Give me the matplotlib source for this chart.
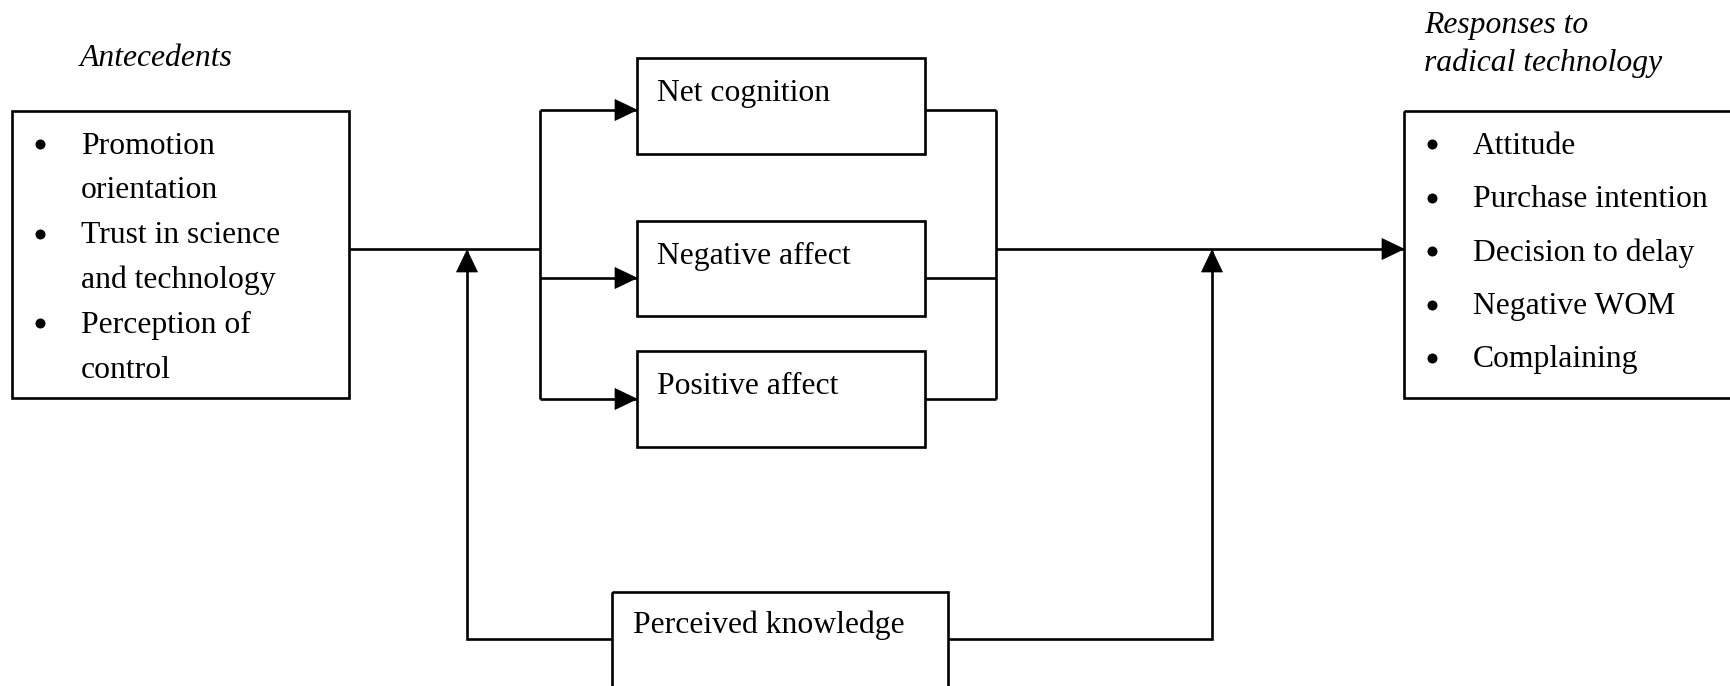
import matplotlib.pyplot as plt
from matplotlib.patches import Rectangle, Polygon

# text content
antecedents_title = "Antecedents"
antecedents = [["Promotion", "orientation"],
               ["Trust in science", "and technology"],
               ["Perception of", "control"]]
mediators = ["Net cognition", "Negative affect", "Positive affect"]
moderator = "Perceived knowledge"
responses_title = ["Responses to", "radical technology"]
responses = ["Attitude", "Purchase intention", "Decision to delay",
             "Negative WOM", "Complaining"]

plt.rcParams['font.family'] = ['Liberation Serif', 'DejaVu Serif']
FS = 22.8
LW = 1.9
DY = 3  # text nudge down

fig = plt.figure(figsize=(17.31, 6.86), dpi=100)
ax = fig.add_axes([0, 0, 1, 1])
ax.set_xlim(0, 1731)
ax.set_ylim(686, 0)
ax.axis('off')


def box(x0, y0, x1, y1):
    ax.add_patch(Rectangle((x0, y0), x1 - x0, y1 - y0, fill=False,
                           lw=LW, ec='black', clip_on=True))


def line(xs, ys):
    ax.plot(xs, ys, color='black', lw=LW, solid_capstyle='butt',
            solid_joinstyle='miter')


def head(x, y, d, L=22, W=10.5):
    # filled triangle, tip at (x, y)
    if d == 'right':
        pts = [(x, y), (x - L, y - W), (x - L, y + W)]
    else:  # up
        pts = [(x, y), (x - W, y + L), (x + W, y + L)]
    ax.add_patch(Polygon(pts, closed=True, fc='black', ec='black', lw=0.5))


def bullet(x, y):
    ax.plot([x], [y], 'o', color='black', ms=7.2, mew=0)


def txt(x, y, s, **kw):
    ax.text(x, y + DY, s, fontsize=FS, va='center', **kw)


# left box: antecedents
txt(80, 55, antecedents_title, style='italic')
box(12, 111, 349, 398)
y = 143
for item in antecedents:
    bullet(40, y + 1)
    for ln in item:
        txt(81, y, ln)
        y += 44.8

# mediator boxes
mid_y = 249
med_top = [58, 221, 351]
med_bot = [154, 316, 447]
med_conn = [110, 278, 399]
mx0, mx1 = 637, 925
for name, t, b, c in zip(mediators, med_top, med_bot, med_conn):
    box(mx0, t, mx1, b)
    txt(657, t + 32, name)
    line([540, mx0], [c, c])
    head(mx0, c, 'right')
    line([mx1, 996], [c, c])

line([349, 540], [mid_y, mid_y])
line([540, 540], [med_conn[0], med_conn[-1]])
line([996, 996], [med_conn[0], med_conn[-1]])
line([996, 1404], [mid_y, mid_y])
head(1404, mid_y, 'right')

# right box: responses
txt(1424, 22, responses_title[0], style='italic')
txt(1424, 60, responses_title[1], style='italic')
box(1404, 111, 1760, 398)
for i, r in enumerate(responses):
    yy = 143 + i * 53.5
    bullet(1432, yy + 1)
    txt(1473, yy, r)

# moderator
box(612, 592, 948, 700)
txt(633, 622, moderator)
line([612, 467, 467], [639, 639, mid_y + 2])
head(467, mid_y + 1, 'up')
line([948, 1212, 1212], [639, 639, mid_y + 2])
head(1212, mid_y + 1, 'up')

fig.savefig('out.png', dpi=100)
